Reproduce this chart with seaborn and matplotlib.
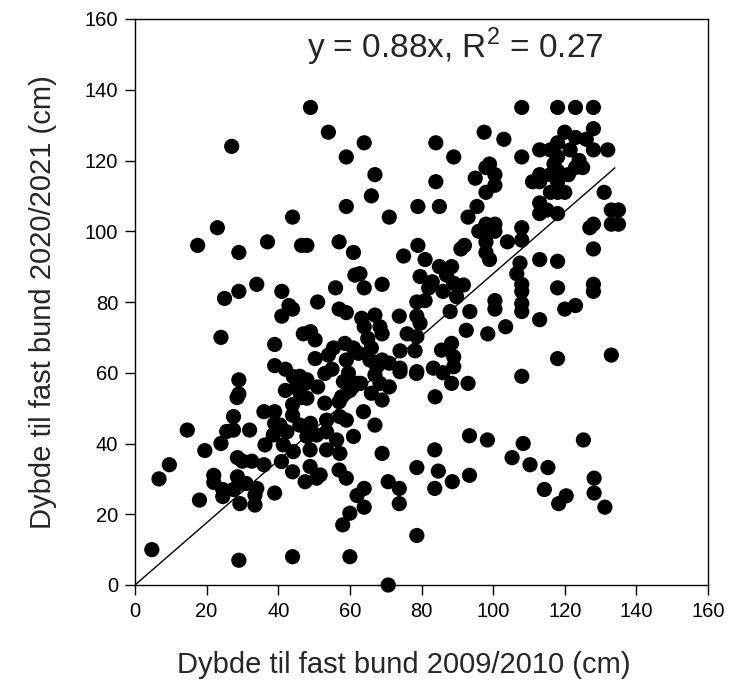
import matplotlib
matplotlib.use("Agg")
import matplotlib.pyplot as plt
import seaborn as sns
import pandas as pd
import numpy as np

# depth 2009/2010 (x) and 2020/2021 (y), cm
x_2009 = [
    49, 54, 64, 59, 67, 66, 59, 71, 79, 85, 84, 89, 84, 93, 95.5, 48, 57, 61, 75, 79, 81, 91, 92, 95,
    27, 44, 23, 17.5, 29, 37, 46.5,
    108, 118, 123, 128, 97.5, 103, 128, 120, 123, 126, 118, 113, 108, 128, 132, 121.5, 124, 123, 118,
    117, 116, 118, 113, 113, 118, 118, 116, 120, 99, 98, 100.5, 100.5, 98, 98, 100.5, 98, 98, 100.5,
    98, 99, 108, 108, 113, 113, 115, 118, 131, 133, 133, 127, 128, 128, 107.5, 113, 118,
    106.6, 108, 108, 118, 128, 128, 100.5, 100.5, 108, 108, 120, 123, 113, 103.5, 98.5, 93.5, 118,
    133, 108, 93, 92.5,
    25, 29, 34, 41, 43, 44, 41, 24, 39, 39, 42, 46, 45, 46.5, 29, 29, 28.5, 36, 39, 27.5, 44, 14.6,
    39, 47, 32,
    19.5, 9.6, 6.7, 18, 4.7, 29, 44, 24, 25.6, 27.5, 28.6, 30, 32.6, 36, 22, 22, 24.5, 24.5, 28.6,
    29.3, 31, 27.5, 29.3, 34, 33.5, 33.5, 39, 44, 47.5,
    45.6, 48, 48, 53, 53, 57, 40.5, 38.6, 42.4, 46, 48, 50.7, 53.5, 53.5, 56.3, 57.2, 36.3, 41.4,
    44.2, 48.9, 53.5, 57.2, 40.9, 48.9, 51.7, 57, 44.2, 46.1,
    69, 59, 50.7, 64, 62, 64, 60, 58, 60, 70.7, 78.7, 70.7, 73.8, 73.8, 78.7, 83.7, 84.7, 83.7, 88.6,
    93.4, 93.4, 67, 61,
    98.4, 108.4, 105.3, 110.3, 115.3, 114.3, 120.4, 118.3, 125.2, 128.2, 128.2, 131.2,
    62, 74, 78.6, 63.8, 59,
    61.4, 62.8, 56, 64, 69, 51, 57, 59, 67, 73.8, 64, 68.4, 69, 65, 49, 50.3, 55.4, 58.6, 54, 50.3,
    59, 62.4, 66, 65.6, 69, 71, 74, 74, 78.2, 78.7, 78.7, 79.6, 78.7, 81, 79.6, 83, 85, 88.4, 87,
    89, 91.7, 86, 89.8, 88, 85.6, 88.4, 89, 89, 83.3, 86, 88.4, 83.8, 78.7, 67.5, 67, 68.4, 66, 69,
    59.6, 58.2, 60, 57.7, 49, 47.5, 63.3,
    42, 44, 51, 55, 61, 63, 71, 76, 82, 96, 104, 111, 116, 121, 125, 135, 135,
]
y_2020 = [
    135, 128, 125, 121, 116, 110, 107, 104, 107, 107, 125, 121, 114, 104, 107, 96, 97, 94, 93, 96, 92, 95, 96, 115,
    124, 104, 101, 96, 94, 97, 96,
    135, 135, 135, 135, 128, 126, 129, 128, 126.5, 126, 125, 123, 121, 123, 123, 123, 120, 118, 121,
    119, 116, 117, 116, 114, 114, 111, 111, 111, 119, 118, 116, 113, 111, 102, 102, 99, 97, 100,
    94, 92, 101, 97.5, 108, 105, 106, 105, 111, 106, 102, 101, 102, 95, 91, 92, 91.5,
    88, 85, 83, 84, 85, 83, 80.4, 78, 79.6, 77.3, 78, 79, 75, 73, 71, 77.3, 64,
    65, 59, 57, 72,
    81, 83, 85, 83, 79, 78, 76, 70, 68, 62, 61, 59, 56, 53, 58, 54, 53, 49, 49, 47.6, 48, 43.8,
    45.7, 71, 43.8,
    38, 34, 30, 24, 10, 7, 8, 40, 43.4, 43.8, 36, 35, 35, 34, 31, 29, 27, 25, 30.6,
    28.7, 28.7, 27, 23, 27.3, 25.4, 22.6, 26, 32, 29.2,
    57, 58, 52.8, 59.8, 51.4, 51.8, 45.2, 42.4, 43.3, 45.2, 42, 42.4, 46.6, 43.3, 41, 47.6, 39.6, 39.6,
    37.7, 38.2, 38.2, 37.2, 34.9, 33.5, 31.1, 32.5, 58.9, 54.2,
    37.2, 30.2, 30.2, 27.3, 25.3, 22, 20.3, 17, 8, 0, 14, 29.2, 27.3, 23, 33.2, 38.2, 32.2, 27.3, 29.2,
    42.2, 31, 45.2, 42,
    41, 40, 36, 34, 33.2, 27, 25.2, 23, 41, 30.2, 26, 22,
    57, 60.3, 59.8, 49, 46.6,
    87.6, 88, 84, 84, 85, 80, 78, 77, 76.3, 76, 73, 73, 71, 69.7, 71.6, 69.3, 67, 68.3, 65, 64,
    63.6, 65.5, 67, 63.6, 63.6, 62.7, 61.3, 66.2, 66.2, 70.2, 76, 74, 80, 80.4, 87.2, 85.7, 90, 90, 87.6,
    85.3, 84.8, 83, 81.5, 77.3, 66.4, 68.3, 64.5, 61.7, 61.3, 60, 57, 53.2, 60.3, 61.7, 59.4, 57, 54.2, 52.3,
    59.9, 57.5, 55, 53.2, 45.7, 57, 75.4,
    55, 51, 56, 61, 67, 57, 56, 71, 84, 100, 97, 114, 123, 116, 118, 106, 102,
]

slope = 0.88
fit_x = [0, 134]
fit_y = [slope * v for v in fit_x]
annotation = "y = 0.88x, R$^2$ = 0.27"
xlabel = "Dybde til fast bund 2009/2010 (cm)"
ylabel = "Dybde til fast bund 2020/2021 (cm)"
ticks = [0, 20, 40, 60, 80, 100, 120, 140, 160]

sns.set_style("ticks")
plt.rcParams["font.family"] = ["Liberation Sans", "DejaVu Sans"]
plt.rcParams["mathtext.fontset"] = "custom"
plt.rcParams["mathtext.rm"] = "Liberation Sans"

df = pd.DataFrame({"x": x_2009, "y": y_2020})
fit = pd.DataFrame({"x": fit_x, "y": fit_y})

fig = plt.figure(figsize=(7.43, 6.86), dpi=100)
ax = fig.add_axes([135 / 743, 1 - 585 / 686, (708 - 135) / 743, (585 - 19) / 686])

sns.lineplot(data=fit, x="x", y="y", ax=ax, color="black", linewidth=1.0)
sns.scatterplot(data=df, x="x", y="y", ax=ax, color="black", s=120, edgecolor="none",
                clip_on=False, zorder=3)

ax.set_xlim(0, 160)
ax.set_ylim(0, 160)
ax.set_xticks(ticks)
ax.set_yticks(ticks)
ax.tick_params(direction="out", length=7, width=1, labelsize=14.5, colors="black", pad=5)
for sp in ax.spines.values():
    sp.set_visible(True)
    sp.set_linewidth(1.0)
    sp.set_color("black")
ax.set_xlabel(xlabel, fontsize=21, labelpad=22)
ax.xaxis.label.set_x(0.469)
ax.set_ylabel(ylabel, fontsize=21, labelpad=20)
ax.text(89.4, 152, annotation, fontsize=24, ha="center", va="center")

fig.savefig("out.png", dpi=100)
